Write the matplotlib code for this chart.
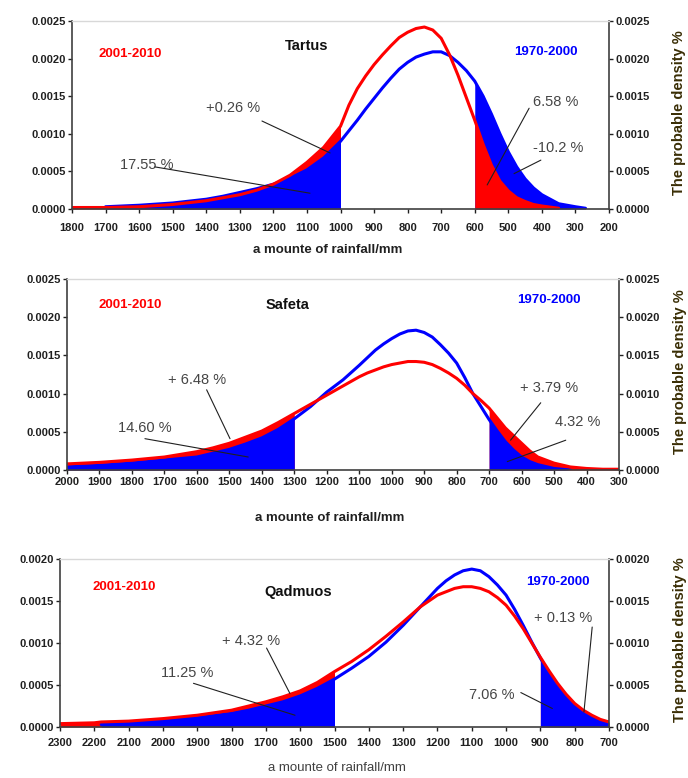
import numpy as np
import matplotlib
matplotlib.use('Agg')
import matplotlib.pyplot as plt

plt.rcParams['font.family'] = ['Liberation Sans', 'DejaVu Sans']

nan = np.nan

# Tartus: probability density of annual rainfall (mm)
tartus_mm = [1800, 1750, 1700, 1650, 1600, 1500, 1400, 1350, 1300, 1250, 1200, 1150, 1100, 1050,
             1000, 975, 950, 925, 900, 875, 850, 825, 800, 775, 750, 725, 700, 675, 650, 625,
             600, 575, 550, 525, 500, 475, 450, 425, 400, 350, 300, 270]
tartus_new = [0.00002, 0.00002, 0.00002, 0.000025, 0.00003, 0.00006, 0.00011, 0.00015, 0.00019,
              0.00025, 0.00033, 0.00045, 0.00062, 0.00082,
              0.00110, 0.00138, 0.00160, 0.00177, 0.00192, 0.00205, 0.00217, 0.00228, 0.00235,
              0.00240, 0.00242, 0.00238, 0.00227, 0.00205, 0.00178, 0.00148,
              0.00118, 0.00086, 0.00058, 0.00037, 0.00024, 0.00015, 0.00010, 0.00006, 0.00004,
              0.00001, nan, nan]
tartus_old = [nan, nan, 0.00003, 0.00004, 0.00005, 0.00008, 0.00013, 0.00017, 0.00022, 0.00027,
              0.00033, 0.00041, 0.00052, 0.00068,
              0.00090, 0.00104, 0.00118, 0.00133, 0.00147, 0.00161, 0.00174, 0.00186, 0.00195,
              0.00202, 0.00206, 0.00209, 0.00209, 0.00204, 0.00195, 0.00184,
              0.00170, 0.00150, 0.00126, 0.00100, 0.00076, 0.00056, 0.00040, 0.00028, 0.00019,
              0.00007, 0.00003, 0.00001]

# Safeta
safeta_mm = [2000, 1900, 1800, 1700, 1600, 1550, 1500, 1450, 1400, 1350, 1300, 1250, 1200, 1150,
             1100, 1075, 1050, 1025, 1000, 975, 950, 925, 900, 875, 850, 825, 800, 775, 750,
             725, 700, 675, 650, 625, 600, 575, 550, 500, 450, 400, 350, 300]
safeta_new = [0.00008, 0.00010, 0.00013, 0.00017, 0.00024, 0.00029, 0.00035, 0.00043, 0.00051,
              0.00062, 0.00074, 0.00086, 0.00098, 0.00110,
              0.00122, 0.00127, 0.00131, 0.00135, 0.00138, 0.00140, 0.00142, 0.00142, 0.00141,
              0.00138, 0.00133, 0.00127, 0.00120, 0.00111, 0.00100,
              0.00091, 0.00081, 0.00068, 0.00055, 0.00045, 0.00035, 0.00025, 0.00017, 0.00009,
              0.00004, 0.00002, 0.00001, 0.00001]
safeta_old = [0.00004, 0.00006, 0.00009, 0.00013, 0.00017, 0.00022, 0.00027, 0.00034, 0.00042,
              0.00053, 0.00067, 0.00083, 0.00102, 0.00118,
              0.00137, 0.00147, 0.00157, 0.00165, 0.00172, 0.00178, 0.00182, 0.00183, 0.00180,
              0.00174, 0.00164, 0.00153, 0.00140, 0.00121, 0.00100,
              0.00083, 0.00066, 0.00051, 0.00037, 0.00026, 0.00017, 0.00011, 0.00007, 0.00002,
              0.0, nan, nan, nan]

# Qadmuos
qadmuos_mm = [2300, 2200, 2180, 2100, 2000, 1900, 1800, 1750, 1700, 1650, 1600, 1550, 1500, 1450,
              1400, 1350, 1300, 1275, 1250, 1225, 1200, 1175, 1150, 1125, 1100, 1075, 1050, 1025,
              1000, 975, 950, 925, 900, 875, 850, 825, 800, 775, 750, 725, 700]
qadmuos_new = [0.00004, 0.00005, 0.00006, 0.00007, 0.00010, 0.00014, 0.00020, 0.00025, 0.00030,
               0.00036, 0.00043, 0.00053, 0.00066, 0.00078,
               0.00092, 0.00108, 0.00125, 0.00134, 0.00143, 0.00150, 0.00157, 0.00161, 0.00165,
               0.00167, 0.00167, 0.00165, 0.00161, 0.00154,
               0.00145, 0.00132, 0.00117, 0.00100, 0.00083, 0.00067, 0.00052, 0.00039, 0.00028,
               0.00020, 0.00014, 0.00009, 0.00006]
qadmuos_old = [nan, nan, 0.00003, 0.00005, 0.00008, 0.00011, 0.00016, 0.00020, 0.00025,
               0.00030, 0.00037, 0.00046, 0.00057, 0.00070,
               0.00084, 0.00101, 0.00121, 0.00132, 0.00143, 0.00154, 0.00165, 0.00174, 0.00181,
               0.00186, 0.00188, 0.00186, 0.00179, 0.00169,
               0.00157, 0.00140, 0.00121, 0.00101, 0.00082, 0.00065, 0.00050, 0.00037, 0.00026,
               0.00018, 0.00012, 0.00008, 0.00005]

RED = '#ff0000'
BLUE = '#0000ff'
W, H = 688, 778


def px_axes(fig, left, top, right, bottom):
    return fig.add_axes([left / W, (H - bottom) / H, (right - left) / W, (bottom - top) / H])


def draw_panel(ax, mm, new, old, xlim, ymax, left_cut, right_cut, right_blue_first):
    mm = np.array(mm, dtype=float)
    new = np.array(new, dtype=float)
    old = np.array(old, dtype=float)
    new0 = np.nan_to_num(new)
    old0 = np.nan_to_num(old)

    # shaded tails
    lmask = mm >= left_cut
    ax.fill_between(mm, 0, new0, where=lmask, color=RED, lw=0)
    ax.fill_between(mm, 0, old0, where=lmask & ~np.isnan(old), color=BLUE, lw=0)
    rmask = mm <= right_cut
    if right_blue_first:
        ax.fill_between(mm, 0, old0, where=rmask & ~np.isnan(old), color=BLUE, lw=0)
        ax.fill_between(mm, 0, new0, where=rmask & ~np.isnan(new), color=RED, lw=0)
    else:
        ax.fill_between(mm, 0, new0, where=rmask & ~np.isnan(new), color=RED, lw=0)
        ax.fill_between(mm, 0, old0, where=rmask & ~np.isnan(old), color=BLUE, lw=0)

    ax.plot(mm, old, color=BLUE, lw=2.2, solid_capstyle='round', solid_joinstyle='round')
    ax.plot(mm, new, color=RED, lw=2.2, solid_capstyle='round', solid_joinstyle='round')

    ax.set_xlim(*xlim)
    ax.set_ylim(0, ymax)
    ax.set_xticks(np.arange(xlim[1], xlim[0] + 1, 100))
    ax.set_yticks(np.arange(0, ymax + 1e-9, 0.0005))
    ax.yaxis.set_major_formatter(matplotlib.ticker.FormatStrFormatter('%.4f'))
    ax.tick_params(axis='y', which='both', left=True, right=True, labelleft=True,
                   labelright=True, length=3, width=1, pad=1.5, labelsize=8, colors='#202020')
    ax.tick_params(axis='x', length=3, width=1, labelsize=8, colors='#202020')
    for lab in ax.get_xticklabels() + ax.get_yticklabels():
        lab.set_fontweight('bold')
    for side in ('left', 'right', 'bottom'):
        ax.spines[side].set_color('#404040')
        ax.spines[side].set_linewidth(1.2)
    ax.spines['top'].set_color('#d8d8d8')
    ax.spines['top'].set_linewidth(1.0)


def note(ax, text, pos, start, end):
    ax.text(pos[0], pos[1], text, ha='center', va='center', fontsize=10.5, color='#454545')
    ax.annotate('', xy=end, xytext=start,
                arrowprops=dict(arrowstyle='-', color='#202020', lw=0.8, shrinkA=0, shrinkB=0))


def labels(ax, name, name_pos, red_pos, blue_pos):
    ax.text(*red_pos, '2001-2010', transform=ax.transAxes, ha='center', va='center',
            color=RED, fontsize=9.5, fontweight='bold')
    ax.text(*blue_pos, '1970-2000', transform=ax.transAxes, ha='center', va='center',
            color=BLUE, fontsize=9.5, fontweight='bold')
    ax.text(*name_pos, name, transform=ax.transAxes, ha='center', va='center',
            color='#101010', fontsize=10.5, fontweight='bold')


fig = plt.figure(figsize=(W / 100, H / 100), dpi=100)

# Tartus
ax1 = px_axes(fig, 72, 21, 609, 209)
draw_panel(ax1, tartus_mm, tartus_new, tartus_old, (1800, 200), 0.0025, 1000, 600, True)
ax1.tick_params(axis='x', pad=7)
labels(ax1, 'Tartus', (0.436, 0.867), (0.108, 0.824), (0.882, 0.835))
note(ax1, '+0.26 %', (1320, 0.00134), (1234, 0.00117), (1031, 0.000745))
note(ax1, '17.55 %', (1576, 0.000585), (1553, 0.00056), (1091, 0.00021))
note(ax1, '6.58 %', (358, 0.00142), (438, 0.00134), (563, 0.00032))
note(ax1, '-10.2 %', (352, 0.00081), (403, 0.00065), (483, 0.00047))
fig.text(328 / W, 1 - 250 / H, 'a mounte of rainfall/mm', ha='center', va='center',
         fontsize=9.5, fontweight='bold', color='#202020')
fig.text(679 / W, 1 - 113 / H, 'The probable density %', rotation=90, ha='center',
         va='center', fontsize=10.5, fontweight='bold', color='#3a2e05')

# Safeta
ax2 = px_axes(fig, 67, 279, 619, 470)
draw_panel(ax2, safeta_mm, safeta_new, safeta_old, (2000, 300), 0.0025, 1300, 700, False)
ax2.tick_params(axis='x', pad=2)
labels(ax2, 'Safeta', (0.40, 0.864), (0.114, 0.864), (0.873, 0.89))
note(ax2, '+ 6.48 %', (1598, 0.00118), (1570, 0.00105), (1498, 0.00041))
note(ax2, '14.60 %', (1760, 0.00055), (1760, 0.00041), (1442, 0.00017))
note(ax2, '+ 3.79 %', (514, 0.00107), (541, 0.00088), (634, 0.00039))
note(ax2, '4.32 %', (428, 0.00063), (464, 0.00039), (644, 0.00011))
fig.text(330 / W, 1 - 518 / H, 'a mounte of rainfall/mm', ha='center', va='center',
         fontsize=9.5, fontweight='bold', color='#202020')
fig.text(680 / W, 1 - 372 / H, 'The probable density %', rotation=90, ha='center',
         va='center', fontsize=10.5, fontweight='bold', color='#3a2e05')

# Qadmuos
ax3 = px_axes(fig, 60, 559, 609, 727)
draw_panel(ax3, qadmuos_mm, qadmuos_new, qadmuos_old, (2300, 700), 0.0020, 1500, 900, False)
ax3.tick_params(axis='x', pad=5)
labels(ax3, 'Qadmuos', (0.434, 0.804), (0.117, 0.833), (0.906, 0.863))
note(ax3, '+ 4.32 %', (1743, 0.00102), (1698, 0.00094), (1630, 0.00040))
note(ax3, '11.25 %', (1930, 0.00064), (1911, 0.00052), (1615, 0.00014))
note(ax3, '+ 0.13 %', (834, 0.00130), (749, 0.00119), (773, 0.00018))
note(ax3, '7.06 %', (1042, 0.00038), (957, 0.00041), (865, 0.00022))
fig.text(337 / W, 1 - 768 / H, 'a mounte of rainfall/mm', ha='center', va='center',
         fontsize=9.5, color='#404040')
fig.text(680 / W, 1 - 640 / H, 'The probable density %', rotation=90, ha='center',
         va='center', fontsize=10.5, fontweight='bold', color='#3a2e05')

fig.savefig('out.png', dpi=100)
